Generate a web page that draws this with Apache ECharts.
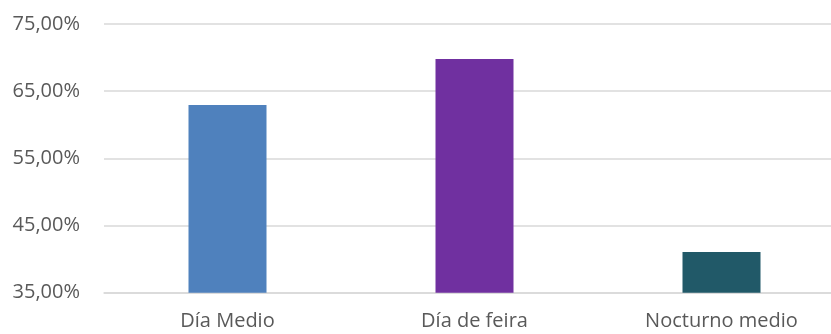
<!DOCTYPE html>
<html><head><meta charset="utf-8">
<script src="https://cdn.jsdelivr.net/npm/echarts@6/dist/echarts.min.js"></script>
<style>html,body{margin:0;padding:0;background:#fff}#c{width:831px;height:334px}</style>
</head><body><div id="c"></div>
<script>
const categories = ["Día Medio", "Día de feira", "Nocturno medio"];
const values = [62.93, 69.78, 41.06];
const barColors = ["#4F81BD", "#7030A0", "#215968"];
const yMin = 35, yMax = 75, yStep = 10;

const chart = echarts.init(document.getElementById('c'));
chart.setOption({
  animation: false,
  grid: { left: 104, top: 24, width: 741, height: 268.7, containLabel: false, outerBoundsMode: 'none' },
  xAxis: {
    type: 'category', data: categories,
    axisLine: { show: true, lineStyle: { color: '#D9D9D9', width: 1.5 } },
    axisTick: { show: false },
    axisLabel: { color: '#595959', fontSize: 20, fontFamily: 'Open Sans', margin: 19 }
  },
  yAxis: {
    type: 'value', min: yMin, max: yMax, interval: yStep,
    axisLine: { show: false }, axisTick: { show: false },
    splitLine: { lineStyle: { color: '#D9D9D9', width: 1.5 } },
    axisLabel: { color: '#595959', fontSize: 20, fontFamily: 'Open Sans', margin: 24,
      formatter: v => v.toFixed(2).replace('.', ',') + '%' }
  },
  series: [{
    type: 'bar', barWidth: 78,
    data: values.map((v, i) => ({ value: v, itemStyle: { color: barColors[i] } }))
  }]
});
</script></body></html>
